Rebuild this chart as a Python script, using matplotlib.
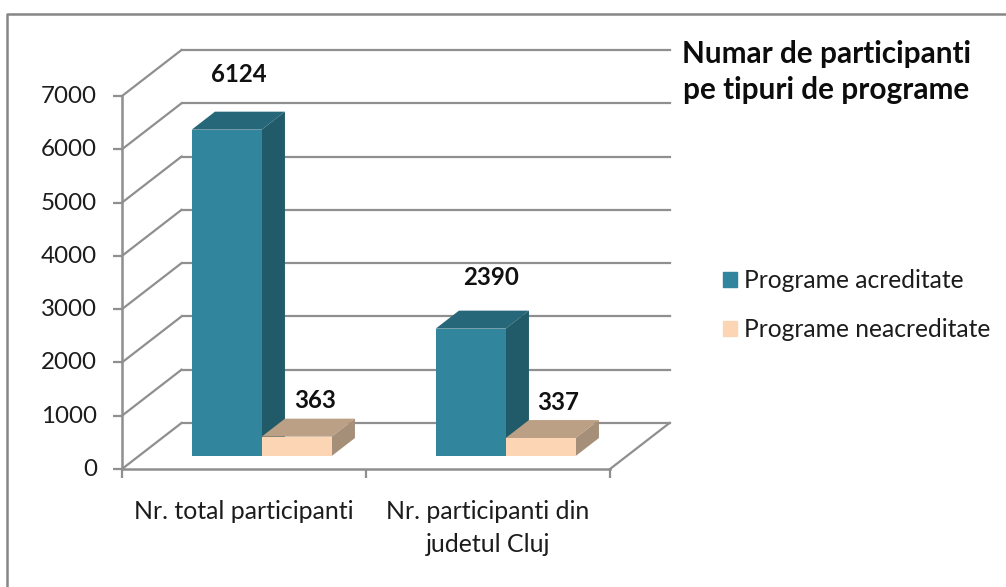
import matplotlib
matplotlib.use("Agg")
import matplotlib.pyplot as plt
from matplotlib.lines import Line2D
from matplotlib.patches import Polygon, Patch
from matplotlib.transforms import Affine2D

categories = ["Nr. total participanti", "Nr. participanti din\njudetul Cluj"]
series_names = ["Programe acreditate", "Programe neacreditate"]
acreditate = [6124, 2390]
neacreditate = [363, 337]
y_ticks = [0, 1000, 2000, 3000, 4000, 5000, 6000, 7000]
title = "Numar de participanti\npe tipuri de programe"

W, H = 1006, 587
plt.rcParams["font.family"] = ["Lato", "DejaVu Sans"]
GRAY = "#8f8f8f"
TXT = "#1c1c1c"

fig = plt.figure(figsize=(W / 100, H / 100), dpi=100, facecolor="white")
ax_l, ax_top, ax_w, ax_h = 122, 96, 488, 373
ax = fig.add_axes([ax_l / W, (H - ax_top - ax_h) / H, ax_w / W, ax_h / H])
ax.set_xlim(0, 2)
ax.set_ylim(0, 7000)
ax.patch.set_alpha(0)

# depth projection: full depth shifts 59.5 px right and 46 px up
DX = 59.5 * 2 / ax_w
DY = 46 * 7000 / ax_h


def proj(x, y, d):
    return (x + d * DX, y + d * DY)


def line(p, q, d0=0, d1=0):
    a, b = proj(*p, d0), proj(*q, d1)
    ax.plot([a[0], b[0]], [a[1], b[1]], color=GRAY, lw=1.6, clip_on=False,
            solid_capstyle="projecting", zorder=1)


for v in y_ticks:
    line((0, v), (0, v), 0, 1)            # side wall
    line((0, v), (2, v), 1, 1)            # back wall
line((2, 0), (2, 0), 0, 1)                # floor edge


def bar3d(x0, w, v, front, top, side):
    d0, d1 = 0.283, 0.674
    x1 = x0 + w
    faces = [
        ([proj(x0, v, d0), proj(x1, v, d0), proj(x1, v, d1), proj(x0, v, d1)], top),
        ([proj(x1, 0, d0), proj(x1, v, d0), proj(x1, v, d1), proj(x1, 0, d1)], side),
        ([proj(x0, 0, d0), proj(x1, 0, d0), proj(x1, v, d0), proj(x0, v, d0)], front),
    ]
    for pts, c in faces:
        ax.add_patch(Polygon(pts, closed=True, facecolor=c, edgecolor="none", lw=0,
                             clip_on=False, zorder=3))


BW = 70 / 244
SHIFT = 0.0035
TEAL = ("#31859C", "#266779", "#215A69")
PEACH = ("#FCD5B5", "#BCA085", "#A58F79")
for i in range(len(categories)):
    x0 = i + 0.5 - BW + SHIFT
    bar3d(x0, BW, acreditate[i], *TEAL)
    bar3d(x0 + BW, BW, neacreditate[i], *PEACH)

# data labels (pixel offsets from each bar's front-top centre)
label_off = {(0, 0): (12, 55), (1, 0): (20, 51), (0, 1): (18, 36), (1, 1): (17, 36)}
for s, vals in enumerate((acreditate, neacreditate)):
    for i, v in enumerate(vals):
        x0 = i + 0.5 - BW + SHIFT + s * BW
        px, py = proj(x0 + BW / 2, v, 0.283)
        ox, oy = label_off[(i, s)]
        ax.annotate(str(v), (px, py), xytext=(ox * 0.72, oy * 0.72),
                    textcoords="offset points", ha="center", va="center",
                    fontsize=17.3, fontweight="bold", color="#111111", zorder=5,
                    annotation_clip=False)

for s in ("top", "right"):
    ax.spines[s].set_visible(False)
for s in ("left", "bottom"):
    ax.spines[s].set_color(GRAY)
    ax.spines[s].set_linewidth(1.8)
ax.set_yticks(y_ticks)
ax.tick_params(axis="y", length=6.5, width=1.6, color=GRAY, pad=11.5,
               labelsize=17.4, labelcolor=TXT)
for lab in ax.get_yticklabels():
    lab.set_transform(lab.get_transform() + Affine2D().translate(0, 1.5))
ax.set_xticks([0, 1, 2])
ax.set_xticklabels([])
ax.tick_params(axis="x", which="major", length=6.5, width=1.6, color=GRAY)
ax.set_xticks([0.5, 1.5], minor=True)
ax.set_xticklabels(categories, minor=True, fontsize=17.9, color=TXT, linespacing=1.52)
ax.tick_params(axis="x", which="minor", length=0, pad=22.5)

fig.text(826.5 / W, 1 - 72 / H, title, ha="center", va="center", fontsize=21.4,
         fontweight="bold", color="#0c0c0c", linespacing=1.36)

handles = [Patch(facecolor=TEAL[0], edgecolor=TEAL[0]), Patch(facecolor=PEACH[0], edgecolor=PEACH[0])]
fig.legend(handles, series_names, loc="center left",
           bbox_to_anchor=(723 / W, 1 - 305 / H), frameon=False, fontsize=17.75,
           labelcolor=TXT, handlelength=0.57, handleheight=0.57, handletextpad=0.3,
           labelspacing=1.04, borderpad=0, borderaxespad=0)

# outer chart frame
fig.add_artist(Line2D([7 / W, 7 / W, 1], [0, 1 - 13.5 / H, 1 - 13.5 / H],
                      transform=fig.transFigure, color="#868686", lw=1.8))

fig.savefig("out.png", dpi=100, facecolor="white")
